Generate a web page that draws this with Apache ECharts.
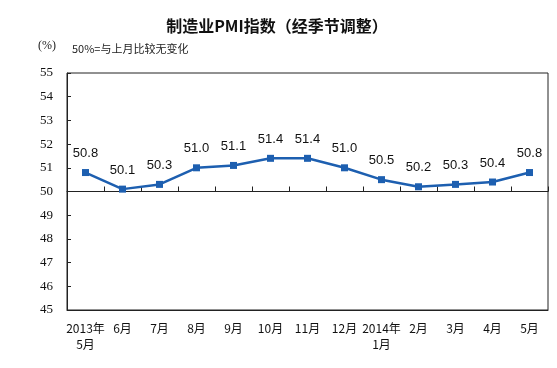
<!DOCTYPE html>
<html><head><meta charset="utf-8">
<script src="https://cdn.jsdelivr.net/npm/echarts@6/dist/echarts.min.js"></script>
<style>html,body{margin:0;padding:0;background:#fff}#c{width:557px;height:368px}</style>
</head><body><div id="c"></div>
<script>
const categories = ['2013年\n5月','6月','7月','8月','9月','10月','11月','12月','2014年\n1月','2月','3月','4月','5月'];
const pmiValues = [50.8,50.1,50.3,51.0,51.1,51.4,51.4,51.0,50.5,50.2,50.3,50.4,50.8];
const yTicks = [45,46,47,48,49,50,51,52,53,54,55];

const chart = echarts.init(document.getElementById('c'));
const cjk = '"Noto Sans CJK SC", sans-serif';
chart.setOption({
  animation:false,
  title:{text:'制造业PMI指数（经季节调整）',left:272,top:13,textAlign:'center',
    textStyle:{fontSize:16,fontWeight:'bold',color:'#111',fontFamily:cjk}},
  graphic:[
    {type:'text',left:38,top:40,style:{text:'(%)',fontSize:12,fill:'#222',fontFamily:'"Liberation Serif", serif'}},
    {type:'text',left:72,top:43,style:{text:'50%=与上月比较无变化',fontSize:11,fill:'#222',fontFamily:cjk}}
  ],
  grid:{left:67,right:9,top:73,bottom:58,show:true,borderColor:'#222',borderWidth:1,backgroundColor:'transparent'},
  xAxis:[
    {type:'category',data:categories,boundaryGap:true,
      axisLine:{show:true,lineStyle:{color:'#222'}},axisTick:{show:false},
      axisLabel:{interval:0,color:'#111',fontSize:12,fontFamily:cjk,margin:10,lineHeight:16}},
    {type:'category',data:categories,boundaryGap:true,position:'bottom',offset:-118.5,
      axisLine:{show:true,lineStyle:{color:'#222'}},
      axisTick:{show:true,inside:true,length:5,interval:0,lineStyle:{color:'#222'}},
      axisLabel:{show:false}}
  ],
  yAxis:{type:'value',min:yTicks[0],max:yTicks[yTicks.length-1],interval:1,
    axisLine:{show:true,lineStyle:{color:'#222'}},
    axisTick:{show:true,inside:true,length:4,lineStyle:{color:'#222'}},
    splitLine:{show:false},
    axisLabel:{color:'#111',fontSize:13,fontFamily:'"Liberation Serif", serif',margin:14}},
  series:[{type:'line',data:pmiValues,xAxisIndex:0,
    symbol:'rect',symbolSize:7,
    lineStyle:{color:'#1d5fb0',width:2.5},itemStyle:{color:'#1d5fb0'},
    label:{show:true,position:'top',distance:9,formatter:p=>p.value.toFixed(1),
      color:'#111',fontSize:13,fontFamily:'"Liberation Sans", Arial, sans-serif'}}]
});
</script></body></html>
